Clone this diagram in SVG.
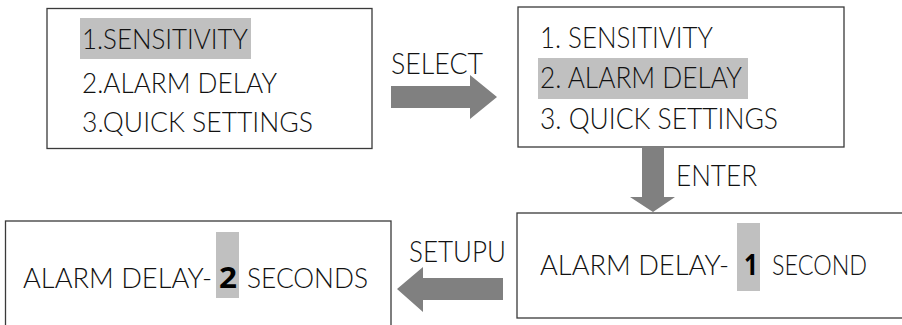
<svg xmlns="http://www.w3.org/2000/svg" width="902" height="325" viewBox="0 0 902 325">
<style>
.box{fill:#fff;stroke:#3a3a3a;stroke-width:1.3}
.hl{fill:#c0c0c0}
.t{font-family:Lato,"Open Sans","Liberation Sans",sans-serif;font-weight:300;fill:#111}
.b{font-family:"Open Sans","Liberation Sans",sans-serif;font-weight:700;fill:#000}
.arrow{fill:#808080}
</style>
<rect width="902" height="325" fill="#fff"/>
<g id="node-menu1">
<rect class="box" x="47" y="8.5" width="325" height="140"/>
<rect class="hl" x="80" y="18" width="171" height="41"/>
<text class="t" x="82" y="49" font-size="27" textLength="166" lengthAdjust="spacingAndGlyphs">1.SENSITIVITY</text>
<text class="t" x="82" y="93" font-size="27" textLength="195" lengthAdjust="spacingAndGlyphs">2.ALARM DELAY</text>
<text class="t" x="82" y="132" font-size="27" textLength="231" lengthAdjust="spacingAndGlyphs">3.QUICK SETTINGS</text>
</g>
<g id="node-menu2">
<rect class="box" x="518" y="7" width="326" height="140"/>
<rect class="hl" x="538" y="58" width="210" height="41"/>
<text class="t" x="540" y="48" font-size="30" textLength="173" lengthAdjust="spacingAndGlyphs">1. SENSITIVITY</text>
<text class="t" x="540" y="88" font-size="30" textLength="202" lengthAdjust="spacingAndGlyphs">2. ALARM DELAY</text>
<text class="t" x="540" y="129" font-size="30" textLength="238" lengthAdjust="spacingAndGlyphs">3. QUICK SETTINGS</text>
</g>
<g id="node-delay1">
<rect class="box" x="517" y="213" width="400" height="105"/>
<rect class="hl" x="737" y="223" width="23" height="68"/>
<text class="t" y="275" font-size="28"><tspan x="540" textLength="189" lengthAdjust="spacingAndGlyphs">ALARM DELAY-</tspan><tspan class="b" x="744" textLength="14" lengthAdjust="spacingAndGlyphs">1</tspan><tspan x="772" textLength="95" lengthAdjust="spacingAndGlyphs">SECOND</tspan></text>
</g>
<g id="node-delay2">
<rect class="box" x="5.5" y="221" width="385.5" height="120"/>
<rect class="hl" x="216" y="232" width="23" height="66"/>
<text class="t" y="288" font-size="28"><tspan x="23" textLength="189" lengthAdjust="spacingAndGlyphs">ALARM DELAY-</tspan><tspan class="b" x="219" font-size="29" textLength="18" lengthAdjust="spacingAndGlyphs">2</tspan><tspan x="247" textLength="121" lengthAdjust="spacingAndGlyphs">SECONDS</tspan></text>
</g>
<g id="connectors">
<polygon class="arrow" points="391,86 470,86 470,75 497,97 470,119 470,108 391,108"/>
<text class="t" x="391" y="74" font-size="30" textLength="92" lengthAdjust="spacingAndGlyphs">SELECT</text>
<polygon class="arrow" points="642,147 664,147 664,197 675,197 653,212 630,197 642,197"/>
<text class="t" x="676" y="186" font-size="30" textLength="81" lengthAdjust="spacingAndGlyphs">ENTER</text>
<polygon class="arrow" points="503,278 423,278 423,267 397,289 423,312 423,300 503,300"/>
<text class="t" x="409" y="262" font-size="29" textLength="97" lengthAdjust="spacingAndGlyphs">SETUPU</text>
</g>
</svg>
